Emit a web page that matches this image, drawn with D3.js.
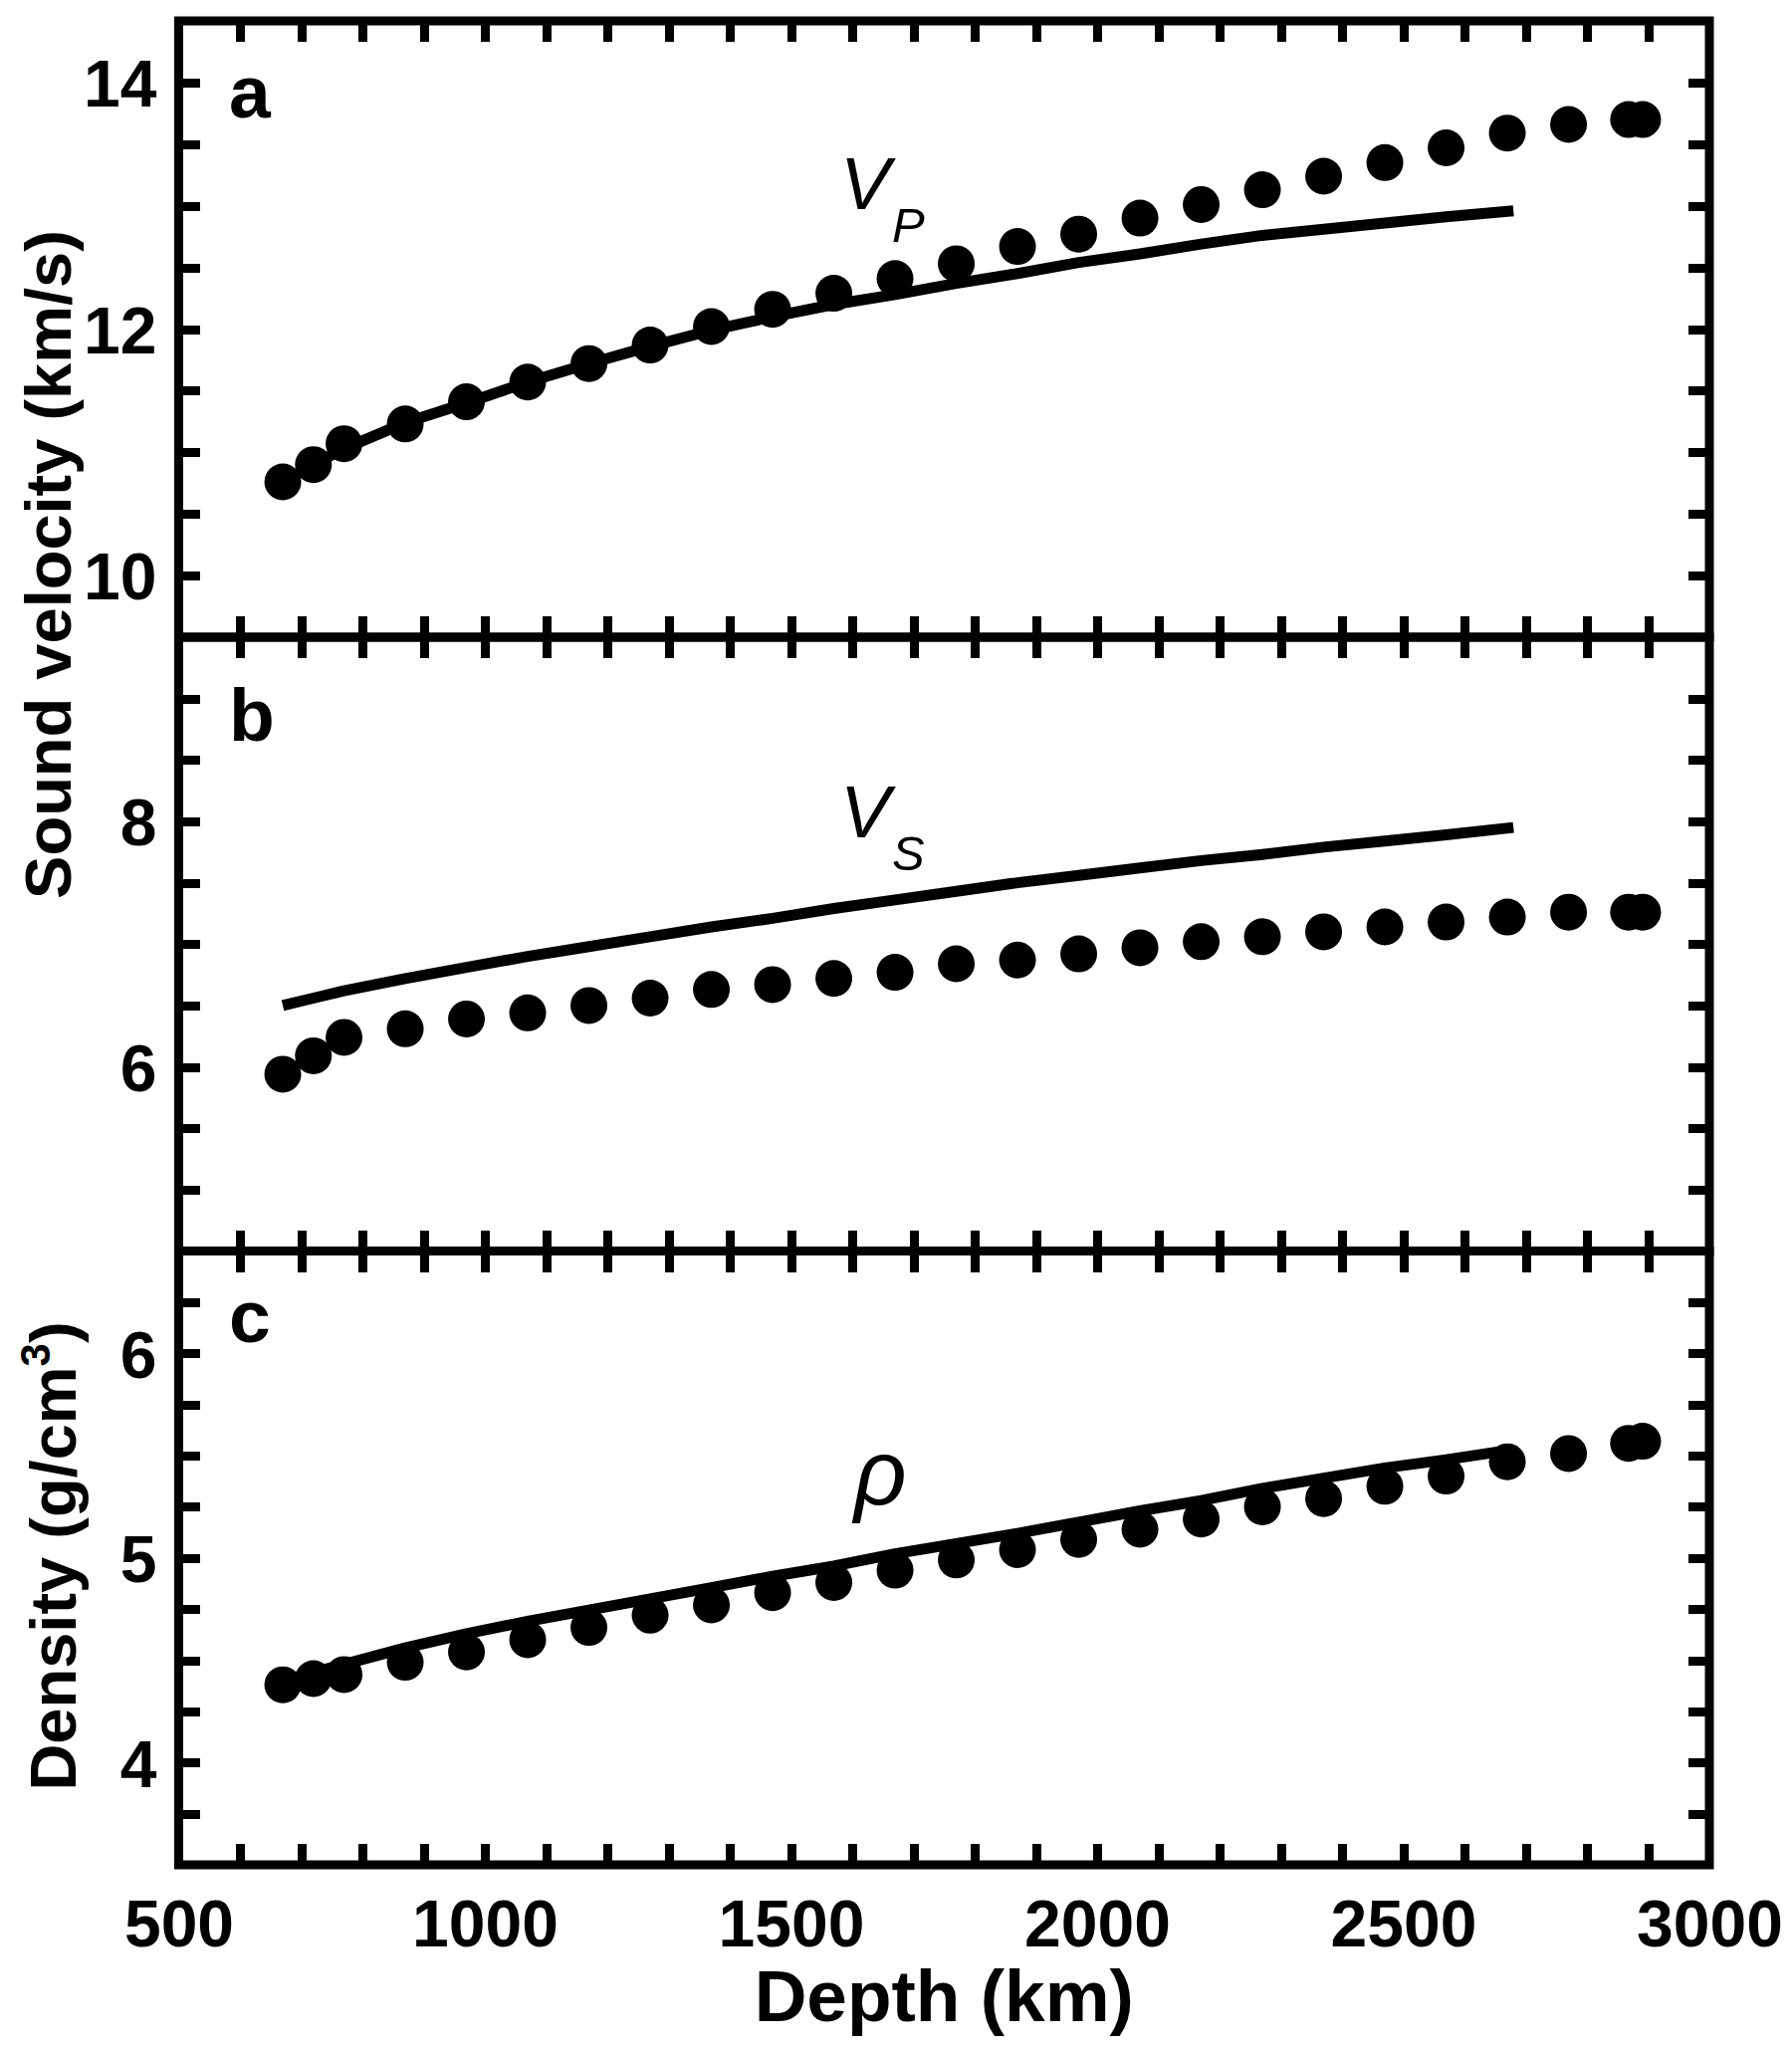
<!DOCTYPE html>
<html>
<head>
<meta charset="utf-8">
<script src="https://cdn.jsdelivr.net/npm/d3@7"></script>
<style>
  body { margin: 0; background: #fff; }
  svg { display: block; }
  text { font-family: "Liberation Sans", Arial, sans-serif; fill: #000; }
</style>
</head>
<body>
<div id="plot"></div>
<script>
// Depths (km) of the model points and of the seismic reference curve
const dotDepth = [670, 720, 770, 870, 970, 1070, 1170, 1270, 1370, 1470, 1570, 1670, 1770,
  1870, 1970, 2070, 2170, 2270, 2370, 2470, 2570, 2670, 2770, 2868, 2891];
const lineDepth = [670, 720, 770, 870, 970, 1070, 1170, 1270, 1370, 1470, 1570, 1670, 1770,
  1870, 1970, 2070, 2170, 2270, 2370, 2470, 2570, 2680];

// Panel a: P-wave velocity (km/s)
const vpDots = [10.76, 10.90, 11.07, 11.23, 11.41, 11.57, 11.72, 11.87, 12.02, 12.16, 12.29, 12.41, 12.53,
  12.67, 12.77, 12.90, 13.01, 13.13, 13.24, 13.35, 13.47, 13.59, 13.66, 13.70, 13.70];
const vpLine = [10.76, 10.90, 11.03, 11.24, 11.40, 11.57, 11.72, 11.86, 11.99, 12.10, 12.20, 12.28, 12.37,
  12.45, 12.54, 12.61, 12.69, 12.76, 12.81, 12.86, 12.91, 12.96];

// Panel b: S-wave velocity (km/s)
const vsDots = [5.94, 6.09, 6.24, 6.31, 6.39, 6.44, 6.50, 6.56, 6.63, 6.67, 6.72, 6.77, 6.84,
  6.87, 6.92, 6.97, 7.02, 7.06, 7.10, 7.14, 7.18, 7.22, 7.26, 7.26, 7.26];
const vsLine = [6.50, 6.56, 6.62, 6.72, 6.81, 6.90, 6.98, 7.06, 7.14, 7.21, 7.29, 7.36, 7.43,
  7.50, 7.56, 7.62, 7.68, 7.73, 7.79, 7.84, 7.89, 7.95];

// Panel c: density (g/cm3)
const rhoDots = [4.38, 4.41, 4.43, 4.49, 4.54, 4.60, 4.66, 4.72, 4.77, 4.83, 4.88, 4.94, 4.99,
  5.04, 5.09, 5.14, 5.19, 5.25, 5.29, 5.35, 5.40, 5.47, 5.51, 5.56, 5.57];
const rhoLine = [4.40, 4.44, 4.48, 4.56, 4.63, 4.69, 4.745, 4.80, 4.855, 4.91, 4.96, 5.02, 5.07,
  5.12, 5.175, 5.23, 5.28, 5.34, 5.39, 5.44, 5.48, 5.53];

// Axis ticks
const xTicks = d3.range(600, 3000, 100);
const xLabels = [500, 1000, 1500, 2000, 2500, 3000];
const vpTicks = d3.range(10, 14.01, 0.5);
const vpLabels = [10, 12, 14];
const vsTicks = d3.range(5, 9.01, 0.5);
const vsLabels = [6, 8];
const rhoTicks = d3.range(3.75, 6.26, 0.25);
const rhoLabels = [4, 5, 6];

const width = 1800;
const height = 2059;
const left = 179.5, right = 1717;
const tickLen = 21;
const frameW = 9;

const svg = d3.select("#plot")
  .append("svg")
  .attr("width", width)
  .attr("height", height);

const x = d3.scaleLinear().domain([500, 3000]).range([left, right]);

const panels = [
  {name: "a", top: 21, bottom: 640, domain: [9.5, 14.5], ticks: vpTicks, labels: vpLabels,
   dots: vpDots, line: vpLine, letterY: 118},
  {name: "b", top: 640, bottom: 1256.5, domain: [4.5, 9.5], ticks: vsTicks, labels: vsLabels,
   dots: vsDots, line: vsLine, letterY: 744},
  {name: "c", top: 1256.5, bottom: 1873, domain: [3.5, 6.5], ticks: rhoTicks, labels: rhoLabels,
   dots: rhoDots, line: rhoLine, letterY: 1348}
];

function styleTicks(g) {
  g.select(".domain").remove();
  g.selectAll(".tick line")
    .attr("stroke", "#000")
    .attr("stroke-width", frameW)
    .attr("shape-rendering", "crispEdges");
}

panels.forEach(p => {
  const y = d3.scaleLinear().domain(p.domain).range([p.bottom, p.top]);
  p.y = y;

  // inward ticks on all four sides
  svg.append("g")
    .attr("transform", `translate(0,${p.bottom})`)
    .call(d3.axisBottom(x).tickValues(xTicks).tickSize(-tickLen).tickFormat(""))
    .call(styleTicks);
  svg.append("g")
    .attr("transform", `translate(0,${p.top})`)
    .call(d3.axisTop(x).tickValues(xTicks).tickSize(-tickLen).tickFormat(""))
    .call(styleTicks);
  svg.append("g")
    .attr("transform", `translate(${left},0)`)
    .call(d3.axisLeft(y).tickValues(p.ticks).tickSize(-tickLen).tickFormat(""))
    .call(styleTicks);
  svg.append("g")
    .attr("transform", `translate(${right},0)`)
    .call(d3.axisRight(y).tickValues(p.ticks).tickSize(-tickLen).tickFormat(""))
    .call(styleTicks);

  // y tick labels
  const yl = svg.append("g")
    .attr("transform", `translate(${left},0)`)
    .call(d3.axisLeft(y).tickValues(p.labels).tickSize(0).tickPadding(22).tickFormat(d3.format("d")));
  yl.select(".domain").remove();
  yl.selectAll("text")
    .attr("font-size", 66)
    .attr("font-weight", "bold")
    .attr("dy", "0.36em");

  // reference curve
  const line = d3.line()
    .x((d, i) => x(lineDepth[i]))
    .y(d => y(d));
  svg.append("path")
    .datum(p.line)
    .attr("d", line)
    .attr("fill", "none")
    .attr("stroke", "#000")
    .attr("stroke-width", 11)
    .attr("stroke-linejoin", "round");

  // model points
  svg.append("g")
    .selectAll("circle")
    .data(p.dots)
    .join("circle")
    .attr("cx", (d, i) => x(dotDepth[i]))
    .attr("cy", d => y(d))
    .attr("r", 18.5)
    .attr("fill", "#000");

  // panel letter
  svg.append("text")
    .attr("x", 230)
    .attr("y", p.letterY)
    .attr("font-size", 75)
    .attr("font-weight", "bold")
    .text(p.name);
});

// frames
panels.forEach(p => {
  svg.append("rect")
    .attr("x", left)
    .attr("y", p.top)
    .attr("width", right - left)
    .attr("height", p.bottom - p.top)
    .attr("fill", "none")
    .attr("stroke", "#000")
    .attr("stroke-width", frameW);
});

// x tick labels
const xl = svg.append("g")
  .attr("transform", `translate(0,${panels[2].bottom})`)
  .call(d3.axisBottom(x).tickValues(xLabels).tickSize(0).tickPadding(35).tickFormat(d3.format("d")));
xl.select(".domain").remove();
xl.selectAll("text")
  .attr("font-size", 66)
  .attr("font-weight", "bold");

// axis titles
svg.append("text")
  .attr("x", x(1750))
  .attr("y", 2030)
  .attr("text-anchor", "middle")
  .attr("font-size", 73)
  .attr("font-weight", "bold")
  .text("Depth (km)");

svg.append("text")
  .attr("transform", "translate(71,567) rotate(-90)")
  .attr("text-anchor", "middle")
  .attr("font-size", 65)
  .attr("font-weight", "bold")
  .text("Sound velocity (km/s)");

const dens = svg.append("text")
  .attr("transform", "translate(76,1563) rotate(-90)")
  .attr("text-anchor", "middle")
  .attr("font-size", 65)
  .attr("font-weight", "bold");
dens.append("tspan").text("Density (g/cm");
dens.append("tspan").attr("font-size", 42).attr("dy", -26).text("3");
dens.append("tspan").attr("dy", 26).text(")");

// curve labels: italic V with a subscript in one text element
function curveLabel(main, sub, xPos, yPos) {
  const t = svg.append("text")
    .attr("x", xPos)
    .attr("y", yPos)
    .attr("font-size", 75)
    .attr("font-style", "italic");
  t.append("tspan").text(main);
  t.append("tspan")
    .attr("font-size", 49)
    .attr("dx", 2)
    .attr("dy", 33)
    .text(sub);
}
curveLabel("V", "P", 844, 210);
curveLabel("V", "S", 844, 841);

svg.append("text")
  .attr("x", 858)
  .attr("y", 1511)
  .attr("font-size", 92)
  .attr("font-style", "italic")
  .text("\u03C1");
</script>
</body>
</html>
